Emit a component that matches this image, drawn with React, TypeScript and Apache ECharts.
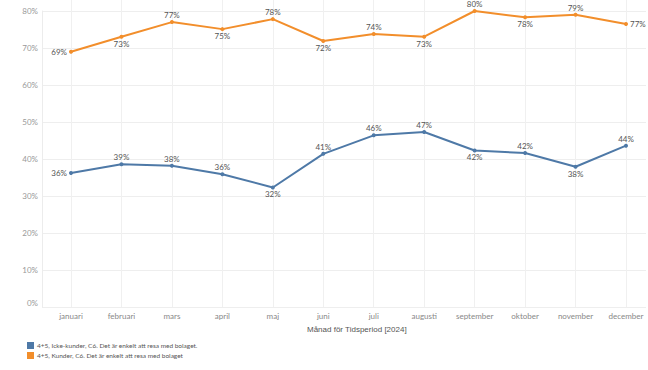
import React, { useEffect, useRef } from "react";
import * as echarts from "echarts";

const months = ["januari", "februari", "mars", "april", "maj", "juni", "juli", "augusti", "september", "oktober", "november", "december"];
const nameBlue = "4+5, Icke-kunder, C6. Det är enkelt att resa med bolaget.";
const nameOrange = "4+5, Kunder, C6. Det är enkelt att resa med bolaget";
const blueValues = [36.2, 38.6, 38.2, 35.9, 32.3, 41.4, 46.4, 47.3, 42.3, 41.6, 37.9, 43.6];
const orangeValues = [69.0, 73.05, 77.0, 75.1, 77.8, 71.9, 73.8, 73.05, 80.0, 78.3, 79.0, 76.5];
const yTicks = [0, 10, 20, 30, 40, 50, 60, 70, 80];
const axisTitle = "Månad för Tidsperiod [2024]";

const bluePos = ["left", "top", "top", "top", "bottom", "top", "top", "top", "bottom", "top", "bottom", "top"];
const orangePos = ["left", "bottom", "top", "bottom", "top", "bottom", "top", "bottom", "top", "bottom", "top", "right"];

const FONT = "Lato, 'Open Sans', sans-serif";

export default function App() {
  const ref = useRef<HTMLDivElement>(null);
  useEffect(() => {
    if (!ref.current) return;
    const chart = echarts.init(ref.current, null, { renderer: "svg" });
    const plotBottom = 307;
    const pxPerUnit = (plotBottom - 11) / 80;
    const max1 = plotBottom / pxPerUnit;
    const mk = (vals: number[], pos: string[]) =>
      vals.map((v, i) => ({
        value: v,
        label: { position: pos[i], distance: pos[i] === "left" || pos[i] === "right" ? 2 : 1 },
      }));
    const labelCfg = {
      show: true,
      fontSize: 8,
      color: "#555",
      fontFamily: FONT,
      formatter: (p: any) => Math.round(p.value) + "%",
    };
    chart.setOption({
      animation: false,
      textStyle: { fontFamily: FONT },
      grid: [
        { left: 42, right: 2, top: 11, bottom: 370 - plotBottom },
        { left: 71, right: 648 - 626, top: 0, bottom: 370 - plotBottom },
      ],
      xAxis: [
        { type: "value", gridIndex: 0, show: false, min: 0, max: 1 },
        {
          type: "category",
          gridIndex: 1,
          data: months,
          boundaryGap: false,
          axisLine: { show: false },
          axisTick: { show: false },
          axisLabel: { fontSize: 8, color: "#888", fontFamily: FONT, margin: 5 },
          splitLine: { show: true, lineStyle: { color: "#f0f0f0", width: 1 } },
        },
      ],
      yAxis: [
        {
          type: "value",
          gridIndex: 0,
          min: yTicks[0],
          max: yTicks[yTicks.length - 1],
          interval: 10,
          axisLine: { show: true, lineStyle: { color: "#ececec" } },
          axisTick: { show: false },
          axisLabel: {
            fontSize: 8,
            color: "#999",
            fontFamily: FONT,
            margin: 4,
            formatter: (v: number) => v + "%",
            verticalAlignMinLabel: "bottom",
          },
          splitLine: { show: true, lineStyle: { color: "#eeeeee", width: 1 } },
        },
        { type: "value", gridIndex: 1, min: 0, max: max1, show: false },
      ],
      legend: {
        orient: "vertical",
        left: 22,
        top: 337,
        itemWidth: 7,
        itemHeight: 7,
        itemGap: 3,
        icon: "rect",
        textStyle: { fontSize: 6.5, color: "#555", fontFamily: FONT, padding: [0, 0, 0, -2] },
        data: [nameBlue, nameOrange],
      },
      graphic: [
        {
          type: "text",
          left: 307,
          top: 325,
          style: { text: axisTitle, fontSize: 8, fill: "#555", font: `8px ${FONT}` },
        },
      ],
      series: [
        {
          name: nameBlue,
          type: "line",
          xAxisIndex: 1,
          yAxisIndex: 1,
          data: mk(blueValues, bluePos),
          color: "#4E79A7",
          lineStyle: { width: 2, color: "#4E79A7" },
          symbol: "circle",
          symbolSize: 4,
          label: labelCfg,
        },
        {
          name: nameOrange,
          type: "line",
          xAxisIndex: 1,
          yAxisIndex: 1,
          data: mk(orangeValues, orangePos),
          color: "#F28E2B",
          lineStyle: { width: 2, color: "#F28E2B" },
          symbol: "circle",
          symbolSize: 4,
          label: labelCfg,
        },
      ],
    });
    return () => chart.dispose();
  }, []);
  return <div ref={ref} style={{ position: "absolute", left: 0, top: 0, width: 648, height: 370 }} />;
}
